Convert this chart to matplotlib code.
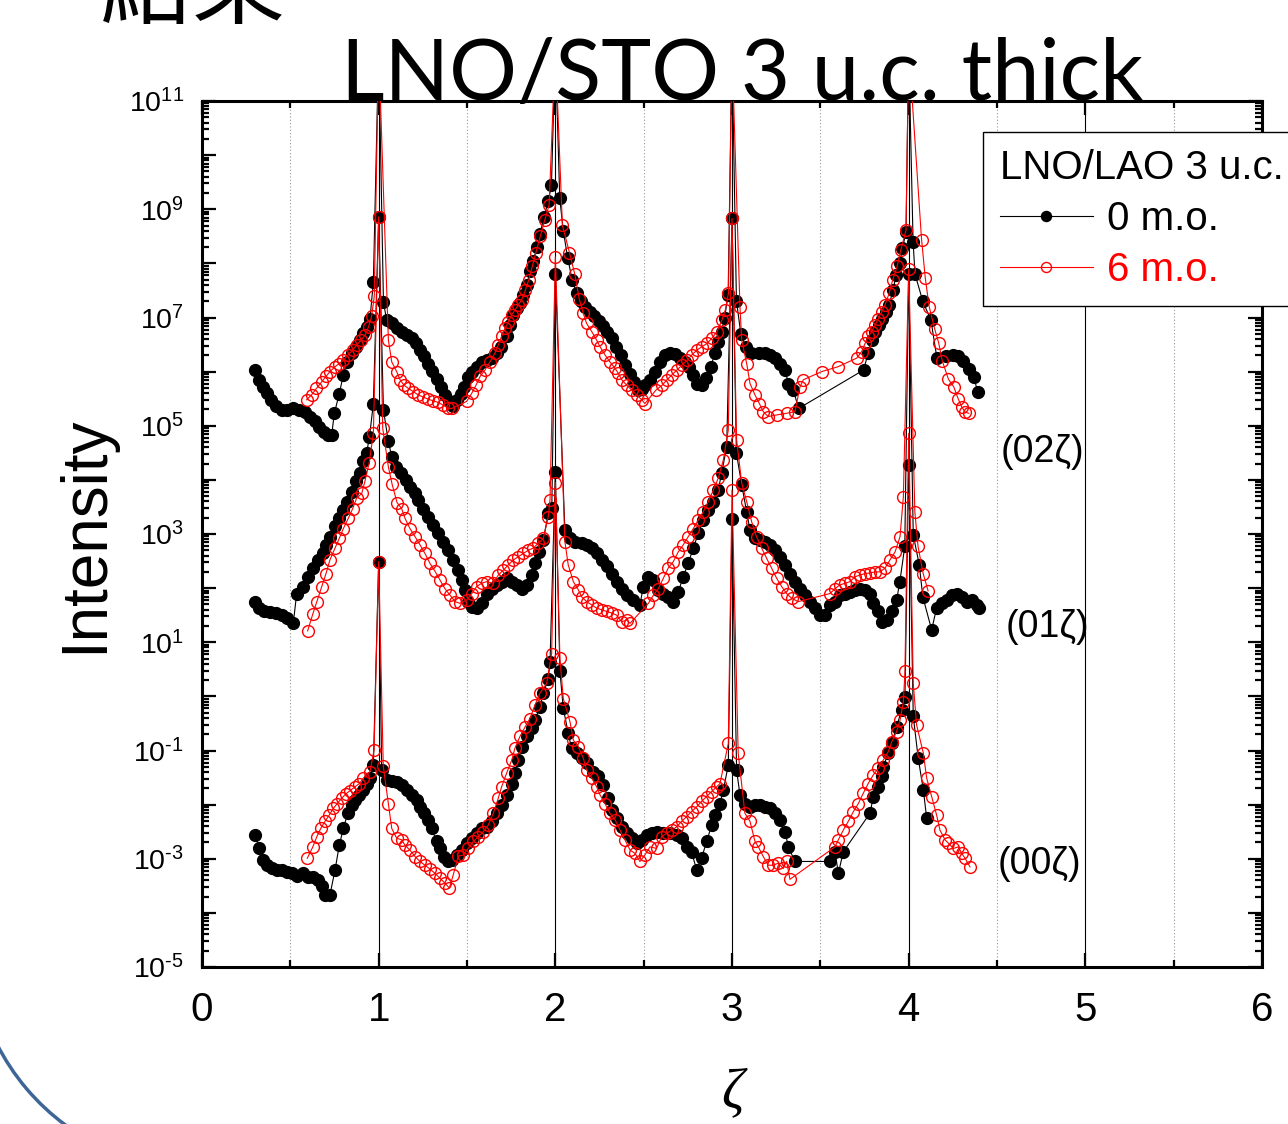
import numpy as np
import matplotlib
matplotlib.use("Agg")
import matplotlib.pyplot as plt
from matplotlib.ticker import FixedLocator, FuncFormatter, NullFormatter
from matplotlib.patches import Arc

plt.rcParams['font.family'] = ['Liberation Sans', 'DejaVu Sans']
plt.rcParams['mathtext.fontset'] = 'custom'
plt.rcParams['mathtext.rm'] = 'Liberation Sans'
plt.rcParams['mathtext.it'] = 'Liberation Sans:italic'

# ---------------- data: zeta and log10(intensity) ----------------
# (02 zeta) rod, 0 m.o.
z02_0 = [0.300, 0.325, 0.347, 0.366, 0.389, 0.419, 0.451, 0.483, 0.517, 0.551, 0.583, 0.611, 0.640,
         0.664, 0.690, 0.715, 0.734, 0.749, 0.777, 0.800, 0.819, 0.847, 0.872, 0.894, 0.913, 0.932,
         0.951, 0.970, 1.000, 1.027, 1.045, 1.074, 1.102, 1.130, 1.159, 1.187, 1.211, 1.234, 1.257,
         1.281, 1.304, 1.328, 1.351, 1.375, 1.400, 1.419, 1.441, 1.464, 1.485, 1.505, 1.527, 1.555,
         1.583, 1.611, 1.640, 1.668, 1.695, 1.724, 1.743, 1.762, 1.781, 1.800, 1.819, 1.838, 1.857,
         1.876, 1.895, 1.914, 1.935, 1.960, 1.978, 2.000, 2.025, 2.045, 2.070, 2.095, 2.120, 2.145,
         2.170, 2.195, 2.220, 2.245, 2.270, 2.295, 2.320, 2.345, 2.370, 2.395, 2.420, 2.445, 2.470,
         2.490, 2.510, 2.536, 2.564, 2.592, 2.621, 2.649, 2.677, 2.706, 2.734, 2.758, 2.781, 2.800,
         2.828, 2.853, 2.879, 2.904, 2.922, 2.941, 2.958, 2.978, 3.000, 3.025, 3.050, 3.080, 3.110,
         3.150, 3.187, 3.215, 3.243, 3.272, 3.300, 3.319, 3.347, 3.377, 3.745, 3.770, 3.790, 3.810,
         3.830, 3.850, 3.870, 3.890, 3.910, 3.930, 3.950, 3.965, 3.985, 4.000, 4.025, 4.036, 4.080,
         4.126, 4.160, 4.210, 4.250, 4.280, 4.310, 4.340, 4.370, 4.390]
l02_0 = [6.03, 5.85, 5.71, 5.60, 5.48, 5.37, 5.29, 5.29, 5.32, 5.30, 5.26, 5.17, 5.08,
         4.98, 4.89, 4.83, 4.83, 5.23, 5.59, 5.94, 6.18, 6.35, 6.46, 6.58, 6.71, 6.83,
         6.98, 7.66, 12.0, 7.29, 6.95, 6.89, 6.80, 6.74, 6.68, 6.62, 6.52, 6.40, 6.28,
         6.15, 6.02, 5.86, 5.71, 5.57, 5.45, 5.37, 5.48, 5.59, 5.72, 5.90, 6.00, 6.09,
         6.18, 6.21, 6.26, 6.35, 6.45, 6.65, 6.86, 7.05, 7.17, 7.26, 7.42, 7.60, 7.85,
         8.05, 8.30, 8.55, 8.85, 9.15, 9.45, 12.0, 9.20, 8.60, 8.10, 7.70, 7.45, 7.30,
         7.20, 7.10, 7.02, 6.93, 6.84, 6.74, 6.62, 6.46, 6.30, 6.12, 5.95, 5.80, 5.66,
         5.68, 5.75, 5.85, 6.00, 6.18, 6.31, 6.34, 6.32, 6.26, 6.18, 6.09, 5.94, 5.78,
         5.75, 5.88, 6.09, 6.34, 6.55, 6.74, 7.00, 7.41, 12.0, 7.31, 6.70, 6.45, 6.34,
         6.34, 6.34, 6.31, 6.25, 6.15, 6.03, 5.78, 5.66, 5.32, 6.03, 6.34, 6.58, 6.74,
         6.86, 6.98, 7.11, 7.23, 7.50, 7.78, 8.00, 8.28, 8.58, 12.0, 8.40, 7.80, 7.30,
         6.95, 6.25, 6.28, 6.31, 6.28, 6.20, 6.05, 5.90, 5.62]

# (02 zeta) rod, 6 m.o.
z02_6 = [0.592, 0.620, 0.648, 0.677, 0.702, 0.724, 0.753, 0.777, 0.800, 0.828, 0.853, 0.875, 0.900,
         0.925, 0.943, 0.960, 0.975, 1.000, 1.055, 1.074, 1.102, 1.121, 1.143, 1.168, 1.196, 1.224,
         1.253, 1.281, 1.309, 1.338, 1.366, 1.394, 1.414, 1.498, 1.527, 1.551, 1.574, 1.602, 1.630,
         1.658, 1.677, 1.696, 1.715, 1.734, 1.753, 1.772, 1.790, 1.809, 1.830, 1.850, 1.870, 1.890,
         1.915, 1.940, 1.965, 2.000, 2.040, 2.080, 2.110, 2.135, 2.158, 2.177, 2.206, 2.234, 2.253,
         2.281, 2.309, 2.338, 2.356, 2.376, 2.404, 2.432, 2.460, 2.489, 2.507, 2.570, 2.605, 2.632,
         2.660, 2.688, 2.717, 2.745, 2.773, 2.802, 2.830, 2.858, 2.887, 2.915, 2.943, 2.962, 2.980,
         3.000, 3.045, 3.055, 3.083, 3.102, 3.130, 3.155, 3.177, 3.205, 3.253, 3.309, 3.356, 3.385,
         3.404, 3.507, 3.600, 3.706, 3.734, 3.753, 3.772, 3.790, 3.810, 3.828, 3.847, 3.866, 3.890,
         3.910, 3.935, 3.955, 3.985, 4.000, 4.073, 4.094, 4.116, 4.148, 4.170, 4.190, 4.225, 4.255,
         4.280, 4.300, 4.320, 4.340]
l02_6 = [5.48, 5.57, 5.69, 5.81, 5.91, 6.00, 6.09, 6.15, 6.21, 6.31, 6.40, 6.49, 6.58,
         6.68, 6.83, 7.02, 7.39, 12.0, 6.58, 6.18, 6.00, 5.85, 5.75, 5.69, 5.63, 5.57,
         5.53, 5.49, 5.46, 5.43, 5.38, 5.32, 5.32, 5.45, 5.60, 5.75, 5.91, 6.03, 6.18,
         6.34, 6.49, 6.65, 6.80, 6.92, 7.05, 7.14, 7.23, 7.32, 7.50, 7.70, 7.95, 8.20,
         8.50, 8.80, 9.08, 12.0, 8.70, 8.20, 7.80, 7.35, 7.08, 6.89, 6.74, 6.58, 6.46,
         6.31, 6.18, 6.06, 5.97, 5.85, 5.75, 5.66, 5.57, 5.48, 5.41, 5.66, 5.75, 5.85,
         5.94, 6.03, 6.12, 6.21, 6.31, 6.40, 6.46, 6.52, 6.62, 6.74, 6.95, 7.14, 7.45,
         12.0, 7.20, 6.58, 6.15, 5.78, 5.57, 5.41, 5.26, 5.17, 5.20, 5.23, 5.26, 5.72,
         5.85, 6.00, 6.09, 6.25, 6.37, 6.52, 6.65, 6.74, 6.86, 6.98, 7.11, 7.23, 7.45,
         7.70, 7.95, 8.24, 8.61, 12.0, 8.44, 7.73, 7.20, 6.78, 6.53, 6.20, 5.86, 5.72,
         5.50, 5.35, 5.25, 5.23]

# (01 zeta) rod, 0 m.o.
z01_0 = [0.300, 0.325, 0.351, 0.385, 0.419, 0.451, 0.483, 0.517, 0.536, 0.574, 0.602, 0.630, 0.658,
         0.687, 0.702, 0.724, 0.753, 0.777, 0.800, 0.819, 0.847, 0.872, 0.894, 0.913, 0.932, 0.948,
         0.970, 1.000, 1.027, 1.055, 1.074, 1.100, 1.128, 1.155, 1.180, 1.205, 1.224, 1.253, 1.281,
         1.309, 1.338, 1.366, 1.394, 1.422, 1.451, 1.470, 1.489, 1.505, 1.527, 1.555, 1.583, 1.611,
         1.640, 1.668, 1.696, 1.724, 1.753, 1.781, 1.810, 1.838, 1.866, 1.885, 1.909, 1.932, 1.960,
         1.980, 2.000, 2.054, 2.083, 2.111, 2.149, 2.177, 2.206, 2.234, 2.262, 2.290, 2.319, 2.347,
         2.375, 2.404, 2.441, 2.479, 2.498, 2.526, 2.554, 2.583, 2.611, 2.639, 2.668, 2.696, 2.724,
         2.752, 2.781, 2.809, 2.837, 2.866, 2.894, 2.922, 2.941, 2.970, 3.000, 3.025, 3.055, 3.083,
         3.102, 3.130, 3.158, 3.187, 3.215, 3.243, 3.272, 3.300, 3.328, 3.356, 3.385, 3.413, 3.441,
         3.470, 3.498, 3.526, 3.555, 3.583, 3.611, 3.640, 3.668, 3.696, 3.724, 3.753, 3.781, 3.800,
         3.828, 3.847, 3.875, 3.904, 3.932, 3.950, 3.978, 4.000, 4.026, 4.060, 4.080, 4.130, 4.158,
         4.187, 4.215, 4.243, 4.272, 4.300, 4.328, 4.356, 4.385, 4.400]
l01_0 = [1.75, 1.63, 1.57, 1.55, 1.54, 1.50, 1.44, 1.36, 1.90, 2.03, 2.21, 2.37, 2.52,
         2.64, 2.80, 2.95, 3.14, 3.29, 3.44, 3.60, 3.78, 3.97, 4.12, 4.35, 4.50, 4.80,
         5.41, 8.86, 5.29, 4.71, 4.43, 4.24, 4.12, 4.00, 3.87, 3.75, 3.63, 3.47, 3.32,
         3.17, 3.01, 2.86, 2.70, 2.52, 2.33, 2.15, 1.97, 1.75, 1.66, 1.63, 1.72, 1.90,
         1.99, 2.06, 2.12, 2.18, 2.12, 2.06, 1.99, 2.06, 2.24, 2.46, 2.67, 2.89, 3.38,
         3.48, 7.80, 3.07, 2.92, 2.86, 2.83, 2.80, 2.74, 2.64, 2.52, 2.40, 2.27, 2.12,
         1.99, 1.87, 1.78, 1.69, 2.03, 2.21, 2.15, 1.97, 1.90, 1.84, 1.75, 1.93, 2.21,
         2.46, 2.74, 3.01, 3.26, 3.44, 3.60, 3.81, 4.12, 4.61, 8.83, 4.49, 3.91, 3.41,
         3.07, 2.92, 2.89, 2.86, 2.80, 2.70, 2.58, 2.43, 2.27, 2.12, 1.99, 1.87, 1.75,
         1.63, 1.50, 1.50, 1.69, 1.75, 1.87, 1.90, 1.93, 1.97, 1.99, 1.97, 1.90, 1.72,
         1.57, 1.38, 1.41, 1.57, 1.78, 2.12, 2.77, 7.80, 2.98, 2.43, 1.84, 1.23, 1.63,
         1.72, 1.78, 1.87, 1.90, 1.84, 1.75, 1.78, 1.69, 1.63]

# (01 zeta) rod, 6 m.o.
z01_6 = [0.598, 0.627, 0.650, 0.678, 0.702, 0.724, 0.753, 0.777, 0.800, 0.828, 0.853, 0.875, 0.904,
         0.922, 0.946, 0.970, 1.000, 1.023, 1.055, 1.076, 1.104, 1.130, 1.149, 1.177, 1.206, 1.234,
         1.262, 1.290, 1.319, 1.347, 1.375, 1.404, 1.432, 1.460, 1.498, 1.527, 1.555, 1.583, 1.611,
         1.649, 1.677, 1.705, 1.734, 1.762, 1.790, 1.819, 1.847, 1.875, 1.904, 1.932, 1.960, 1.970,
         2.000, 2.054, 2.073, 2.102, 2.130, 2.149, 2.177, 2.206, 2.234, 2.262, 2.290, 2.319, 2.347,
         2.376, 2.404, 2.423, 2.527, 2.555, 2.583, 2.611, 2.639, 2.668, 2.696, 2.724, 2.752, 2.781,
         2.809, 2.837, 2.866, 2.894, 2.922, 2.951, 2.979, 3.000, 3.026, 3.055, 3.083, 3.111, 3.139,
         3.168, 3.196, 3.224, 3.253, 3.281, 3.309, 3.338, 3.375, 3.555, 3.583, 3.611, 3.640, 3.668,
         3.696, 3.724, 3.753, 3.781, 3.809, 3.838, 3.866, 3.894, 3.923, 3.951, 3.970, 4.000, 4.035,
         4.053, 4.082, 4.110]
l01_6 = [1.21, 1.52, 1.75, 2.03, 2.27, 2.52, 2.74, 2.92, 3.10, 3.29, 3.47, 3.66, 3.75,
         3.97, 4.31, 4.86, 8.86, 4.95, 4.24, 3.92, 3.58, 3.47, 3.29, 3.10, 2.95, 2.80,
         2.64, 2.46, 2.31, 2.15, 1.99, 1.87, 1.75, 1.72, 1.78, 1.90, 2.03, 2.09, 2.12,
         2.09, 2.24, 2.33, 2.43, 2.52, 2.58, 2.64, 2.70, 2.74, 2.83, 2.92, 3.32, 3.63,
         8.12, 2.86, 2.43, 2.12, 1.97, 1.84, 1.75, 1.69, 1.63, 1.60, 1.57, 1.54, 1.50,
         1.38, 1.41, 1.35, 1.72, 1.87, 1.99, 2.18, 2.37, 2.49, 2.67, 2.80, 2.95, 3.10,
         3.26, 3.41, 3.60, 3.81, 4.03, 4.37, 4.92, 8.83, 4.74, 3.94, 3.60, 3.23, 2.95,
         2.74, 2.55, 2.37, 2.18, 2.03, 1.90, 1.81, 1.75, 1.90, 1.99, 2.06, 2.09, 2.12,
         2.21, 2.24, 2.27, 2.28, 2.30, 2.30, 2.37, 2.52, 2.67, 2.95, 3.69, 7.90, 3.41,
         2.77, 2.27, 1.95]

# (00 zeta) rod, 0 m.o.
z00_0 = [0.300, 0.325, 0.347, 0.366, 0.394, 0.422, 0.451, 0.479, 0.507, 0.536, 0.573, 0.602, 0.630,
         0.658, 0.677, 0.696, 0.724, 0.753, 0.777, 0.800, 0.825, 0.847, 0.866, 0.890, 0.913, 0.932,
         0.951, 0.970, 1.000, 1.017, 1.045, 1.074, 1.102, 1.130, 1.159, 1.187, 1.215, 1.234, 1.257,
         1.281, 1.300, 1.328, 1.347, 1.371, 1.394, 1.417, 1.441, 1.470, 1.498, 1.527, 1.555, 1.583,
         1.611, 1.640, 1.668, 1.696, 1.724, 1.753, 1.772, 1.790, 1.809, 1.838, 1.866, 1.885, 1.913,
         1.932, 1.960, 1.970, 2.000, 2.026, 2.045, 2.073, 2.092, 2.120, 2.149, 2.177, 2.215, 2.243,
         2.272, 2.300, 2.319, 2.347, 2.375, 2.404, 2.432, 2.460, 2.489, 2.517, 2.545, 2.573, 2.611,
         2.649, 2.687, 2.715, 2.743, 2.771, 2.800, 2.828, 2.856, 2.885, 2.904, 2.932, 2.951, 2.979,
         3.000, 3.026, 3.045, 3.073, 3.102, 3.130, 3.158, 3.187, 3.215, 3.243, 3.272, 3.300, 3.319,
         3.356, 3.555, 3.583, 3.602, 3.630, 3.781, 3.800, 3.828, 3.847, 3.856, 3.885, 3.904, 3.932,
         3.960, 3.979, 4.000, 4.026, 4.054, 4.083, 4.102]
l00_0 = [-2.56, -2.81, -3.02, -3.12, -3.18, -3.20, -3.21, -3.24, -3.27, -3.32, -3.27, -3.33, -3.34,
         -3.39, -3.51, -3.67, -3.67, -3.21, -2.75, -2.44, -2.16, -2.01, -1.92, -1.82, -1.73, -1.61,
         -1.51, -1.27, 2.49, -1.36, -1.54, -1.57, -1.59, -1.64, -1.73, -1.82, -1.92, -2.04, -2.16,
         -2.28, -2.44, -2.68, -2.81, -2.96, -3.05, -3.02, -2.93, -2.84, -2.71, -2.62, -2.53, -2.44,
         -2.41, -2.31, -2.16, -2.01, -1.82, -1.61, -1.42, -1.18, -0.93, -0.74, -0.59, -0.44, -0.19,
         0.06, 0.33, 0.64, 4.15, 0.46, -0.22, -0.68, -0.96, -1.05, -1.14, -1.24, -1.39, -1.48,
         -1.64, -1.88, -2.10, -2.25, -2.41, -2.53, -2.62, -2.71, -2.65, -2.56, -2.52, -2.50, -2.53,
         -2.53, -2.56, -2.62, -2.78, -2.87, -3.21, -2.99, -2.68, -2.38, -2.19, -1.98, -1.73, -1.27,
         3.28, -1.36, -1.82, -1.98, -2.04, -2.01, -2.01, -2.04, -2.07, -2.16, -2.28, -2.50, -2.78,
         -3.05, -3.05, -2.87, -3.27, -2.87, -2.16, -1.85, -1.67, -1.48, -1.30, -1.05, -0.87, -0.56,
         -0.25, -0.01, 4.27, -0.37, -1.14, -1.73, -2.25]

# (00 zeta) rod, 6 m.o.
z00_6 = [0.596, 0.626, 0.649, 0.672, 0.696, 0.721, 0.743, 0.766, 0.791, 0.815, 0.838, 0.866, 0.891,
         0.913, 0.951, 0.974, 1.000, 1.026, 1.055, 1.074, 1.102, 1.130, 1.149, 1.177, 1.206, 1.234,
         1.262, 1.290, 1.319, 1.347, 1.375, 1.400, 1.422, 1.451, 1.479, 1.507, 1.536, 1.564, 1.592,
         1.620, 1.649, 1.677, 1.696, 1.724, 1.753, 1.771, 1.800, 1.828, 1.856, 1.885, 1.913, 1.951,
         1.979, 2.000, 2.026, 2.045, 2.083, 2.102, 2.130, 2.158, 2.177, 2.206, 2.234, 2.253, 2.281,
         2.309, 2.338, 2.366, 2.394, 2.423, 2.451, 2.479, 2.507, 2.536, 2.573, 2.602, 2.630, 2.658,
         2.687, 2.715, 2.743, 2.771, 2.800, 2.828, 2.856, 2.885, 2.913, 2.932, 2.979, 3.000, 3.035,
         3.073, 3.102, 3.130, 3.149, 3.177, 3.205, 3.234, 3.262, 3.290, 3.309, 3.328, 3.583, 3.602,
         3.630, 3.658, 3.687, 3.715, 3.743, 3.771, 3.800, 3.828, 3.856, 3.885, 3.904, 3.932, 3.951,
         3.970, 3.979, 4.000, 4.026, 4.045, 4.083, 4.102, 4.130, 4.158, 4.177, 4.206, 4.224, 4.253,
         4.281, 4.300, 4.319, 4.347]
l00_6 = [-2.99, -2.79, -2.60, -2.44, -2.31, -2.19, -2.07, -1.98, -1.88, -1.80, -1.74, -1.67, -1.61,
         -1.51, -1.39, -0.99, 2.49, -1.29, -1.98, -2.44, -2.62, -2.65, -2.75, -2.84, -2.96, -3.05,
         -3.12, -3.19, -3.27, -3.36, -3.45, -3.54, -3.30, -2.95, -2.93, -2.81, -2.68, -2.59, -2.50,
         -2.38, -2.16, -1.88, -1.67, -1.42, -1.18, -0.96, -0.74, -0.57, -0.41, -0.16, 0.06, 0.24,
         0.79, 3.95, 0.70, -0.04, -0.47, -0.81, -0.93, -1.14, -1.36, -1.51, -1.67, -1.82, -1.98,
         -2.16, -2.28, -2.47, -2.65, -2.84, -2.90, -3.05, -2.93, -2.78, -2.81, -2.59, -2.53, -2.47,
         -2.41, -2.31, -2.22, -2.13, -2.04, -1.94, -1.85, -1.76, -1.67, -1.61, -0.87, 3.81, -1.05,
         -2.16, -2.31, -2.68, -2.78, -2.96, -3.12, -3.12, -3.08, -3.18, -3.05, -3.38, -2.78, -2.65,
         -2.47, -2.31, -2.13, -1.98, -1.79, -1.61, -1.45, -1.33, -1.18, -1.02, -0.84, -0.65, -0.44,
         -0.10, 0.46, 4.86, 0.24, -0.53, -1.05, -1.51, -1.85, -2.19, -2.47, -2.65, -2.71, -2.81,
         -2.78, -2.90, -2.99, -3.15]

# rod labels and where they sit (zeta, log10 intensity)
rod_names = ["(02\u03b6)", "(01\u03b6)", "(00\u03b6)"]
rod_label_z = [4.755, 4.783, 4.743]
rod_label_l = [4.52, 1.28, -3.10]

series_names = ["0 m.o.", "6 m.o."]
legend_title = "LNO/LAO 3 u.c. thick"
chart_title = "LNO/STO 3 u.c. thick"
slide_heading = "\u7d50\u679c"

# ---------------- figure ----------------
W, H = 1288, 1124
fig = plt.figure(figsize=(W / 100, H / 100), dpi=100)
ax = fig.add_axes([202 / W, 1 - 967 / H, 1060 / W, 866 / H])

black_kw = dict(color="black", marker="o", ms=8.5, mfc="black", mec="black",
                lw=0.8, zorder=3)
red_kw = dict(color="red", marker="o", ms=8.5, mfc="none", mec="red", mew=1.0,
              lw=0.8, zorder=4)

h0 = None
h6 = None
for z, l in [(z02_0, l02_0), (z01_0, l01_0), (z00_0, l00_0)]:
    line, = ax.plot(z, 10.0 ** np.asarray(l), **black_kw)
    h0 = h0 or line
for z, l in [(z02_6, l02_6), (z01_6, l01_6), (z00_6, l00_6)]:
    line, = ax.plot(z, 10.0 ** np.asarray(l), **red_kw)
    h6 = h6 or line

ax.set_yscale("log")
ax.set_xlim(0, 6)
ax.set_ylim(1e-5, 1e11)


def decade_label(v, pos):
    e = int(round(np.log10(v)))
    if e % 2 == 0:
        return ""
    if e < 0:
        return r"$\mathregular{10^{\text{-}%d}}$" % (-e)
    return r"$\mathregular{10^{%d}}$" % e


# ticks
ax.xaxis.set_major_locator(FixedLocator(np.arange(0, 7, 1)))
ax.xaxis.set_minor_locator(FixedLocator(np.arange(0.5, 6, 1)))
decades = np.arange(-5, 12)
ax.yaxis.set_major_locator(FixedLocator(10.0 ** decades))
minor = [m * 10.0 ** d for d in decades[:-1] for m in range(2, 10)]
ax.yaxis.set_minor_locator(FixedLocator(minor))
ax.yaxis.set_major_formatter(FuncFormatter(decade_label))
ax.yaxis.set_minor_formatter(NullFormatter())

ax.tick_params(axis="both", which="both", direction="in", top=True, right=True,
               width=1.6)
ax.tick_params(axis="y", which="major", length=10, labelsize=20.5, pad=13)
ax.tick_params(axis="y", which="minor", length=5)
ax.tick_params(axis="x", which="major", length=10, labelsize=29, pad=17)
ax.tick_params(axis="x", which="minor", length=5)

for s in ax.spines.values():
    s.set_linewidth(2.2)

# vertical grid
ax.grid(True, axis="x", which="major", color="black", lw=0.8, ls="-", zorder=1)
ax.grid(True, axis="x", which="minor", color="#9a9a9a", lw=0.8, ls=(0, (1, 2)), zorder=1)
ax.set_axisbelow(True)

ax.set_ylabel("Intensity", fontsize=46, labelpad=10)
ax.set_xlabel("\u03b6", fontsize=40, fontfamily="Liberation Serif",
              fontstyle="italic", labelpad=28)

for name, zz, ll in zip(rod_names, rod_label_z, rod_label_l):
    ax.text(zz, 10.0 ** ll, name, fontsize=27, ha="center", va="center")

leg = ax.legend([h0, h6], series_names, title=legend_title,
                loc="upper left", bbox_to_anchor=(983 / W, 1 - 132 / H),
                bbox_transform=fig.transFigure, fontsize=29, title_fontsize=29,
                frameon=True, fancybox=False, edgecolor="black", framealpha=1,
                handlelength=2.3, handletextpad=0.35, borderaxespad=0,
                borderpad=0.42, labelspacing=0.32, markerscale=0.85,
                alignment="left")
leg.get_frame().set_linewidth(1.0)
leg.get_texts()[1].set_color("red")
leg.set_zorder(10)

fig.text(742 / W, 1 - 100 / H, chart_title, fontsize=61, family="Lato",
         ha="center", va="baseline")
fig.text(100 / W, 1 - 17 / H, slide_heading, fontsize=67,
         family=["Noto Sans CJK TC", "DejaVu Sans"], ha="left", va="baseline")

# decorative slide arc
fig.patches.append(Arc((202 / W, 1 - 940 / H), 460 / W, 460 / H, theta1=195,
                       theta2=250, transform=fig.transFigure, color="#3d6596",
                       lw=2.5))

fig.savefig("out.png", dpi=100)
